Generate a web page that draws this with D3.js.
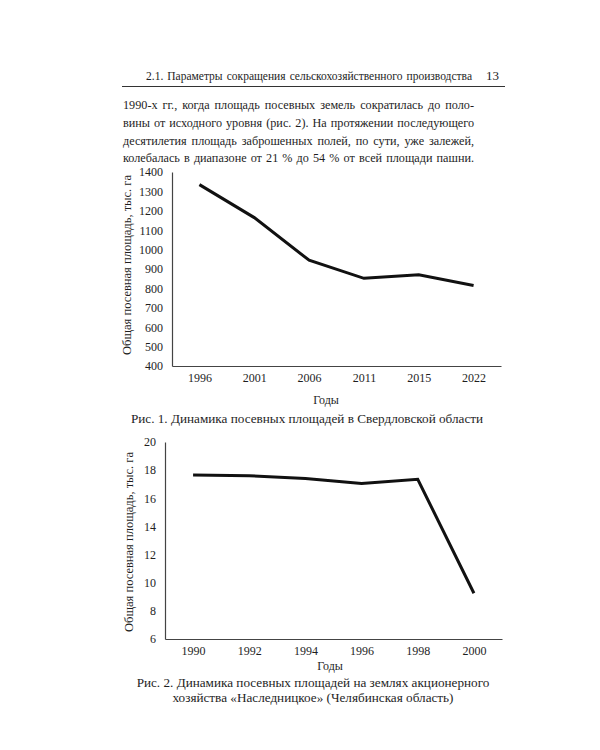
<!DOCTYPE html>
<html><head><meta charset="utf-8">
<script src="https://cdn.jsdelivr.net/npm/d3@7"></script>
<style>html,body{margin:0;padding:0;background:#fff;}svg{display:block;}</style>
</head><body>
<svg id="page" width="600" height="750"></svg>
<script>
// ---------- data ----------
const header = "2.1. Параметры сокращения сельскохозяйственного производства";
const pageNum = "13";
const paragraph = [
  "1990-х гг., когда площадь посевных земель сократилась до поло-",
  "вины от исходного уровня (рис. 2). На протяжении последующего",
  "десятилетия площадь заброшенных полей, по сути, уже залежей,",
  "колебалась в диапазоне от 21 % до 54 % от всей площади пашни."
];
const years1 = ["1996", "2001", "2006", "2011", "2015", "2022"];
const area1 = [1335, 1165, 945, 852, 870, 815];
const yTicks1 = [400, 500, 600, 700, 800, 900, 1000, 1100, 1200, 1300, 1400];
const caption1 = ["Рис. 1. Динамика посевных площадей в Свердловской области"];

const years2 = ["1990", "1992", "1994", "1996", "1998", "2000"];
const area2 = [17.65, 17.6, 17.4, 17.05, 17.35, 9.25];
const yTicks2 = [6, 8, 10, 12, 14, 16, 18, 20];
const caption2 = ["Рис. 2. Динамика посевных площадей на землях акционерного",
                  "хозяйства «Наследницкое» (Челябинская область)"];

const yTitle = "Общая посевная площадь, тыс. га";
const xTitle = "Годы";

// ---------- page ----------
const svg = d3.select("#page");
svg.append("rect").attr("width", 600).attr("height", 750).attr("fill", "#fff");
const serif = "'Liberation Serif', 'DejaVu Serif', serif";
const ink = "#1e1e1e";

// largest font size (<= maxSize) at which every line fits with gaps >= gapEm
function fitSize(parent, lines, width, maxSize, gapEm) {
  const t = parent.append("text").attr("font-size", maxSize);
  let size = maxSize;
  lines.forEach(line => {
    const words = line.split(" ");
    const sum = d3.sum(words, w => { t.text(w); return t.node().getComputedTextLength(); });
    // widths scale linearly with size: sum*k + gapEm*maxSize*k*(n-1) <= width
    const k = width / (sum + gapEm * maxSize * (words.length - 1));
    size = Math.min(size, maxSize * k);
  });
  t.remove();
  return Math.floor(size * 10) / 10;
}
// justify a line word by word between x0 and x1
function justify(parent, line, x0, x1, y, size) {
  const words = line.split(" ");
  const nodes = words.map(w => parent.append("text").attr("font-size", size).attr("y", y).text(w));
  const widths = nodes.map(n => n.node().getComputedTextLength());
  const gap = words.length > 1 ? ((x1 - x0) - d3.sum(widths)) / (words.length - 1) : 0;
  let x = x0;
  nodes.forEach((n, i) => { n.attr("x", x); x += widths[i] + gap; });
}

const head = svg.append("g").attr("font-family", serif).attr("fill", ink);
const headSize = fitSize(head, [header], 472 - 146, 12.5, 0.3);
justify(head, header, 146, 472, 80, headSize);
svg.append("text").attr("x", 499).attr("y", 80).attr("text-anchor", "end").attr("font-family", serif)
  .attr("font-size", 13).attr("fill", ink).text(pageNum);
svg.append("line").attr("x1", 122).attr("x2", 505).attr("y1", 86.5).attr("y2", 86.5)
  .attr("stroke", "#333").attr("stroke-width", 1);

const para = svg.append("g").attr("font-family", serif).attr("fill", ink);
const paraSize = fitSize(para, paragraph, 474 - 123, 14.6, 0.3);
paragraph.forEach((line, i) => justify(para, line, 123, 474, 109 + i * 17.8, paraSize));

function chart(cfg) {
  const g = svg.append("g");
  const x = d3.scalePoint().domain(cfg.cats).range([cfg.x0, cfg.x1]).padding(0.5);
  const y = d3.scaleLinear().domain(cfg.yDomain).range([cfg.yBottom, cfg.yTop]);

  const ax = g.append("g").attr("transform", `translate(0,${cfg.yBottom})`)
    .call(d3.axisBottom(x).tickSize(0).tickPadding(cfg.xPad));
  const ay = g.append("g").attr("transform", `translate(${cfg.x0},0)`)
    .call(d3.axisLeft(y).tickValues(cfg.ticks).tickFormat(d3.format("d")).tickSize(0).tickPadding(9));
  [ax, ay].forEach(a => {
    a.select(".domain").attr("stroke", "#444").attr("stroke-width", 1.2);
    a.selectAll("text").attr("font-family", serif).attr("font-size", 12).attr("fill", ink);
  });

  g.append("path").datum(cfg.vals)
    .attr("fill", "none").attr("stroke", "#111").attr("stroke-width", 3)
    .attr("stroke-linejoin", "miter")
    .attr("d", d3.line().x((d, i) => x(cfg.cats[i])).y(d => y(d)));

  g.append("text").attr("transform", `translate(${cfg.yTitleX},${cfg.yTitleY}) rotate(-90)`)
    .attr("text-anchor", "middle").attr("dominant-baseline", "middle")
    .attr("font-family", serif).attr("font-size", 12.5).attr("fill", ink).text(yTitle);
  g.append("text").attr("x", cfg.xTitleX).attr("y", cfg.xTitleY)
    .attr("text-anchor", "middle").attr("dominant-baseline", "middle")
    .attr("font-family", serif).attr("font-size", 12).attr("fill", ink).text(xTitle);
  g.append("g").selectAll("text").data(cfg.caption).join("text")
    .attr("x", cfg.capX).attr("y", (d, i) => cfg.capY + i * 15)
    .attr("text-anchor", "middle").attr("dominant-baseline", "middle")
    .attr("font-family", serif).attr("font-size", 13.2).attr("fill", ink).text(d => d);
}

chart({cats: years1, vals: area1, ticks: yTicks1, yDomain: [400, 1400],
  x0: 172, x1: 501, yTop: 172, yBottom: 366, xPad: 7,
  yTitleX: 128, yTitleY: 265, xTitleX: 326, xTitleY: 401,
  caption: caption1, capX: 307, capY: 420});

chart({cats: years2, vals: area2, ticks: yTicks2, yDomain: [6, 20],
  x0: 165, x1: 502, yTop: 442, yBottom: 639, xPad: 7,
  yTitleX: 130, yTitleY: 542, xTitleX: 330, xTitleY: 667,
  caption: caption2, capX: 313, capY: 684});
</script>
</body></html>
